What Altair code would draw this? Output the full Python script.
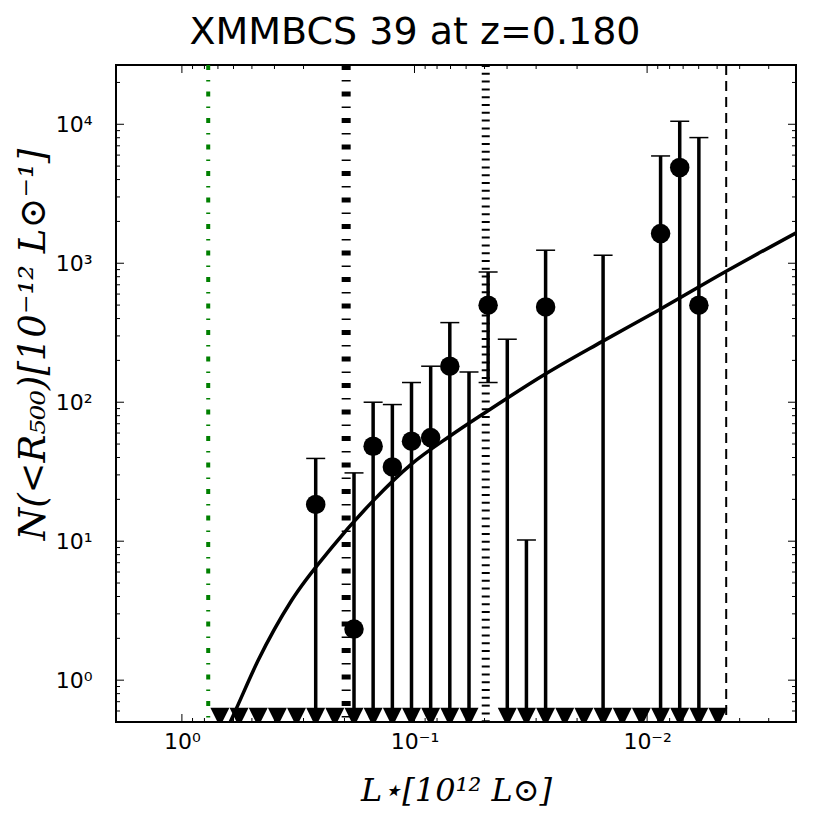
import altair as alt
import pandas as pd

# ---------------- data ----------------
TITLE = "XMMBCS 39 at z=0.180"
X_TITLE = "L⋆[10¹² L⊙]"
Y_TITLE = "N(<R₅₀₀)[10⁻¹² L⊙⁻¹]"

x_tick_values = [1.0, 0.1, 0.01]
x_tick_labels = ["10⁰", "10⁻¹", "10⁻²"]
y_tick_values = [1, 10, 100, 1000, 10000]
y_tick_labels = ["10⁰", "10¹", "10²", "10³", "10⁴"]
x_minor = [0.9, 0.8, 0.7, 0.6, 0.5, 0.4, 0.3, 0.2,
           0.09, 0.08, 0.07, 0.06, 0.05, 0.04, 0.03, 0.02,
           0.009, 0.008, 0.007, 0.006, 0.005, 0.004, 0.003]
y_minor = [0.5, 0.6, 0.7, 0.8, 0.9, 2, 3, 4, 5, 6, 7, 8, 9,
           20, 30, 40, 50, 60, 70, 80, 90, 200, 300, 400, 500, 600, 700, 800, 900,
           2000, 3000, 4000, 5000, 6000, 7000, 8000, 9000, 20000]

# detections (filled circles)
point_L = [0.2659, 0.1820, 0.1506, 0.1245, 0.1030, 0.0852, 0.0705, 0.04825,
           0.02731, 0.00875, 0.00724, 0.00599]
point_N = [18.4, 2.33, 48.2, 34.2, 52.4, 55.7, 181.6, 499, 485, 1634, 4887, 499]

# error bars
err_L = [0.2659, 0.1820, 0.1506, 0.1245, 0.1030, 0.0852, 0.0705, 0.0583, 0.04825,
         0.03991, 0.03302, 0.02731, 0.01546, 0.00875, 0.00724, 0.00599]
err_hi = [39.4, 31.0, 100, 96.2, 138.6, 181.6, 374, 165, 865,
          284, 10.2, 1241, 1142, 5916, 10510, 8020]
err_lo = [0.5, 0.5, 0.5, 0.5, 0.5, 0.5, 0.5, 0.5, 138.6,
          0.5, 0.5, 0.5, 0.5, 0.5, 0.5, 0.5]
lowcap_L = [0.04825]
lowcap_N = [138.6]

# upper-limit triangles along the bottom
limit_L = [0.6864, 0.5678, 0.4697, 0.3885, 0.3215, 0.2659, 0.2200, 0.1820, 0.1506,
           0.1245, 0.1030, 0.0852, 0.0705, 0.0583, 0.03991, 0.03302, 0.02731,
           0.02259, 0.01869, 0.01546, 0.01279, 0.01058, 0.00875, 0.00724,
           0.00599, 0.00496]
limit_N = [0.54] * len(limit_L)

# fitted curve
curve_L = [0.6209, 0.5875, 0.4699, 0.3373, 0.2270, 0.1503, 0.1028, 0.07031,
           0.04943, 0.02748, 0.01563, 0.00885, 0.004571, 0.002286]
curve_N = [0.4955, 0.6081, 1.390, 3.758, 8.995, 19.59, 35.97, 57.15,
           84.72, 158.9, 272.9, 463.4, 875.0, 1656]

# vertical reference lines
green_line_L = [0.7706]
dashdot_line_L = [0.1967]
dotted_line_L = [0.0494]
dashed_line_L = [0.00457]

# ---------------- chart ----------------
W, H = 680, 657
X_DOMAIN = [0.00229, 1.92]
Y_DOMAIN = [0.5, 26700]


def label_expr(vals, labels):
    expr = "''"
    for v, l in zip(reversed(vals), reversed(labels)):
        expr = f"abs(datum.value - {v}) < {v * 1e-3} ? '{l}' : ({expr})"
    return expr


xs = alt.Scale(type="log", domain=X_DOMAIN, reverse=True, nice=False)
ys = alt.Scale(type="log", domain=Y_DOMAIN, nice=False)

xaxis = alt.Axis(values=x_tick_values, labelExpr=label_expr(x_tick_values, x_tick_labels),
                 ticks=False, tickSize=0, domain=False, grid=False,
                 labelFont="DejaVu Sans", labelFontSize=22, labelColor="black",
                 labelPadding=9, labelFlush=False, labelOverlap=False,
                 title=X_TITLE, titleFont="DejaVu Serif", titleFontStyle="italic",
                 titleFontSize=32, titleFontWeight="normal", titleColor="black",
                 titleY=78, titleBaseline="alphabetic")
yaxis = alt.Axis(values=y_tick_values, labelExpr=label_expr(y_tick_values, y_tick_labels),
                 ticks=False, tickSize=0, domain=False, grid=False,
                 labelFont="DejaVu Sans", labelFontSize=22, labelColor="black",
                 labelPadding=24, labelFlush=False, labelOverlap=False,
                 title=Y_TITLE, titleFont="DejaVu Serif", titleFontStyle="italic",
                 titleFontSize=37, titleFontWeight="normal", titleColor="black",
                 titleAngle=270, titleX=-72, titleY=279, titleAlign="center",
                 titleBaseline="alphabetic")


def X(f="L"):
    return alt.X(f"{f}:Q", scale=xs, axis=xaxis)


def Y(f="N"):
    return alt.Y(f"{f}:Q", scale=ys, axis=yaxis)


layers = []

# reference lines
for vals, color, sw, dash in [
    (green_line_L, "#008000", 4, [5, 10, 1.5, 10]),
    (dashdot_line_L, "black", 9, [5, 10, 1.5, 10]),
    (dotted_line_L, "black", 8, [2, 5.8]),
    (dashed_line_L, "black", 2, [10, 6]),
]:
    layers.append(
        alt.Chart(pd.DataFrame({"L": vals}))
        .mark_rule(color=color, strokeWidth=sw, strokeDash=dash, clip=True)
        .encode(x=X())
    )

# curve
layers.append(
    alt.Chart(pd.DataFrame({"L": curve_L, "N": curve_N}))
    .mark_line(color="black", strokeWidth=3.5, interpolate="monotone", clip=True)
    .encode(x=X(), y=Y())
)

# error bars
err_df = pd.DataFrame({"L": err_L, "N": err_hi, "lo": err_lo})
layers.append(
    alt.Chart(err_df)
    .mark_rule(color="black", strokeWidth=3.5, clip=True)
    .encode(x=X(), y=Y(), y2=alt.Y2("lo:Q"))
)
layers.append(
    alt.Chart(err_df)
    .mark_tick(orient="horizontal", size=19, thickness=1.5, color="black", opacity=1, clip=True)
    .encode(x=X(), y=Y())
)
layers.append(
    alt.Chart(pd.DataFrame({"L": lowcap_L, "N": lowcap_N}))
    .mark_tick(orient="horizontal", size=19, thickness=1.5, color="black", opacity=1, clip=True)
    .encode(x=X(), y=Y())
)

# circles
layers.append(
    alt.Chart(pd.DataFrame({"L": point_L, "N": point_N}))
    .mark_circle(size=380, color="black", opacity=1, clip=True)
    .encode(x=X(), y=Y())
)

# upper-limit triangles
layers.append(
    alt.Chart(pd.DataFrame({"L": limit_L, "N": limit_N}))
    .mark_point(shape="M-1,-1L1,-1L0,1Z", size=361, filled=True, color="black",
                opacity=1, strokeWidth=0, clip=True)
    .encode(x=X(), y=Y())
)

# inward ticks on all four sides
for vals, ln in [(x_tick_values, 8), (x_minor, 4)]:
    d = pd.DataFrame({"L": vals})
    layers.append(alt.Chart(d).mark_rule(color="black", strokeWidth=1)
                  .encode(x=X(), y=alt.value(H), y2=alt.value(H - ln)))
    layers.append(alt.Chart(d).mark_rule(color="black", strokeWidth=1)
                  .encode(x=X(), y=alt.value(0), y2=alt.value(ln)))
for vals, ln in [(y_tick_values, 8), (y_minor, 4)]:
    d = pd.DataFrame({"N": vals})
    layers.append(alt.Chart(d).mark_rule(color="black", strokeWidth=1)
                  .encode(y=Y(), x=alt.value(0), x2=alt.value(ln)))
    layers.append(alt.Chart(d).mark_rule(color="black", strokeWidth=1)
                  .encode(y=Y(), x=alt.value(W), x2=alt.value(W - ln)))

# figure title (centred on the figure, above the plot)
layers.append(
    alt.Chart(pd.DataFrame({"t": [TITLE]}))
    .mark_text(font="DejaVu Sans", fontSize=38, color="black", align="center",
               baseline="alphabetic")
    .encode(x=alt.value(299), y=alt.value(-21), text="t:N")
)

chart = (
    alt.layer(*layers)
    .properties(
        width=W, height=H,
        autosize=alt.AutoSizeParams(type="none"),
        padding={"left": 108, "top": 57, "right": 26, "bottom": 100},
        background="white",
    )
    .configure_view(stroke="black", strokeWidth=2)
)

chart.save("out.html", embed_options={"renderer": "svg", "actions": False})
